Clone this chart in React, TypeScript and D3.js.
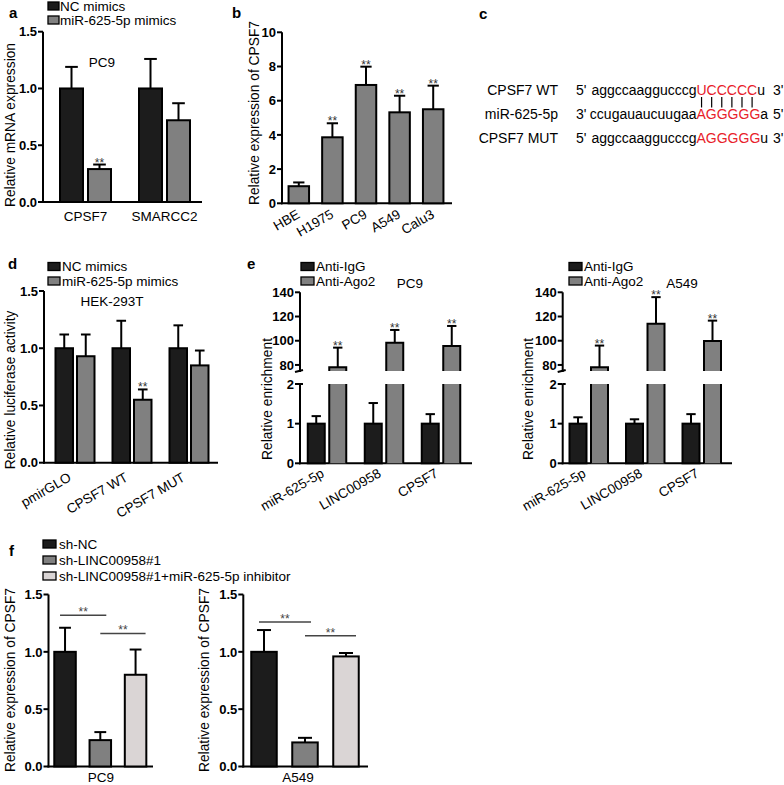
import React from "react";
import * as d3 from "d3";

// ---------- DATA ----------
const aCategories = ["CPSF7", "SMARCC2"];
const aLegend = ["NC mimics", "miR-625-5p mimics"];
const aNC = [1.0, 1.0];
const aNCErr = [0.19, 0.26];
const aMimic = [0.29, 0.72];
const aMimicErr = [0.04, 0.15];
const aMimicSig = ["**", ""];
const aTicks = [0, 0.5, 1.0, 1.5];

const bCategories = ["HBE", "H1975", "PC9", "A549", "Calu3"];
const bValues = [1.0, 3.86, 6.92, 5.32, 5.5];
const bErr = [0.22, 0.82, 1.07, 0.97, 1.38];
const bSig = ["", "**", "**", "**", "**"];
const bTicks = [0, 2, 4, 6, 8, 10];

const cRowLabels = ["CPSF7 WT", "miR-625-5p", "CPSF7 MUT"];
const cLeftEnd = ["5'", "3'", "5'"];
const cSeq = ["aggccaaggucccg", "ccugauaucuugaa", "aggccaaggucccg"];
const cSeed = ["UCCCCC", "AGGGGG", "AGGGGG"];
const cTail = ["u", "a", "u"];
const cRightEnd = ["3'", "5'", "3'"];

const dCategories = ["pmirGLO", "CPSF7 WT", "CPSF7 MUT"];
const dLegend = ["NC mimics", "miR-625-5p mimics"];
const dNC = [1.0, 1.0, 1.0];
const dNCErr = [0.12, 0.24, 0.2];
const dMimic = [0.93, 0.55, 0.85];
const dMimicErr = [0.19, 0.09, 0.13];
const dMimicSig = ["", "**", ""];
const dTicks = [0, 0.5, 1.0, 1.5];

const eCategories = ["miR-625-5p", "LINC00958", "CPSF7"];
const eLegend = ["Anti-IgG", "Anti-Ago2"];
const e1IgG = [1.0, 1.0, 1.0];
const e1IgGErr = [0.19, 0.52, 0.24];
const e1Ago2 = [78, 98.4, 95.6];
const e1Ago2Err = [16.3, 10.5, 16.6];
const e2IgG = [1.0, 1.0, 1.0];
const e2IgGErr = [0.16, 0.11, 0.24];
const e2Ago2 = [78, 114, 99.8];
const e2Ago2Err = [18, 22, 16.8];
const eLowerTicks = [0, 1, 2];
const eUpperTicks = [80, 100, 120, 140];

const fGroups = ["sh-NC", "sh-LINC00958#1", "sh-LINC00958#1+miR-625-5p inhibitor"];
const fPC9 = [1.0, 0.23, 0.8];
const fPC9Err = [0.21, 0.07, 0.22];
const fA549 = [1.0, 0.21, 0.96];
const fA549Err = [0.19, 0.04, 0.03];
const fPC9SigLevels = [1.32, 1.16];
const fA549SigLevels = [1.26, 1.14];
const fTicks = [0, 0.5, 1.0, 1.5];

// ---------- STYLE ----------
const FF = "'Liberation Sans', Arial, Helvetica, sans-serif";
const BLACK = "#1c1c1c";
const GREY = "#808080";
const LIGHT = "#dad5d5";
const FS = 13.5;
const TICKFS = 13;
const SW = 2;

function YAxis({ x, y, ticks, fmt, labelEnd }: any) {
  const [r0, r1] = y.range();
  return (
    <g>
      <line x1={x} x2={x} y1={r0 + 1} y2={r1} stroke="#000" strokeWidth={SW} />
      {ticks.map((t: number) => (
        <g key={t}>
          <line x1={x - 5} x2={x} y1={y(t)} y2={y(t)} stroke="#000" strokeWidth={SW} />
          <text x={labelEnd ?? x - 6} y={y(t)} dy="0.36em" textAnchor="end" fontWeight="bold" fontSize={TICKFS}>
            {fmt(t)}
          </text>
        </g>
      ))}
    </g>
  );
}

function XAxisLine({ x0, x1, y }: any) {
  return <line x1={x0 - 1} x2={x1} y1={y} y2={y} stroke="#000" strokeWidth={SW} />;
}

function YTitle({ x, y, text }: any) {
  return (
    <text transform={`translate(${x},${y}) rotate(-90)`} textAnchor="middle" fontSize={13.8}>
      {text}
    </text>
  );
}

function BarErr({ x, w, y0, yv, ye, fill, sig }: any) {
  const cx = x + w / 2;
  const cap = w * 0.55;
  return (
    <g>
      <line x1={cx} x2={cx} y1={yv} y2={ye} stroke="#000" strokeWidth={SW} />
      <line x1={cx - cap / 2} x2={cx + cap / 2} y1={ye} y2={ye} stroke="#000" strokeWidth={SW} />
      <rect x={x} y={yv} width={w} height={y0 - yv} fill={fill} stroke="#000" strokeWidth={SW} />
      {sig ? (
        <text x={cx} y={ye + 2} textAnchor="middle" fontSize={12} fill="#333">
          {sig}
        </text>
      ) : null}
    </g>
  );
}

function Legend({ x, rows, items, fills, textDx = 14, w = 12 }: any) {
  return (
    <g>
      {items.map((t: string, i: number) => (
        <g key={t}>
          <rect x={x} y={rows[i] - 4} width={w} height={8} fill={fills[i]} stroke="#000" strokeWidth={1.3} />
          <text x={x + textDx} y={rows[i] + 4.5} fontSize={FS}>
            {t}
          </text>
        </g>
      ))}
    </g>
  );
}

function RotLabel({ x, y, text }: any) {
  return (
    <text transform={`translate(${x},${y}) rotate(-30)`} textAnchor="end" fontSize={FS}>
      {text}
    </text>
  );
}

function PanelLetter({ x, y, t }: any) {
  return (
    <text x={x} y={y} fontWeight="bold" fontSize={15}>
      {t}
    </text>
  );
}

// ---------- PANEL A ----------
function PanelA() {
  const y = d3.scaleLinear().domain([0, 1.5]).range([202, 31.7]);
  const x = d3.scaleBand().domain(aCategories).range([46, 204]);
  const bw = 23, gap = 5;
  const y0 = y(0);
  return (
    <g>
      <PanelLetter x={9} y={18} t="a" />
      <Legend x={48} rows={[6, 20]} items={aLegend} fills={[BLACK, GREY]} textDx={12} w={11} />
      <YAxis x={43} y={y} ticks={aTicks} fmt={d3.format(".1f")} />
      <XAxisLine x0={43} x1={202} y={y0} />
      <YTitle x={14.5} y={125} text="Relative mRNA expression" />
      <text x={102} y={67} textAnchor="middle" fontSize={FS}>PC9</text>
      {aCategories.map((c, i) => {
        const cx = (x(c) as number) + x.bandwidth() / 2;
        return (
          <g key={c}>
            <BarErr x={cx - gap / 2 - bw} w={bw} y0={y0} yv={y(aNC[i])} ye={y(aNC[i] + aNCErr[i])} fill={BLACK} />
            <BarErr x={cx + gap / 2} w={bw} y0={y0} yv={y(aMimic[i])} ye={y(aMimic[i] + aMimicErr[i])} fill={GREY} sig={aMimicSig[i]} />
            <text x={cx} y={221} textAnchor="middle" fontSize={FS}>{c}</text>
          </g>
        );
      })}
    </g>
  );
}

// ---------- PANEL B ----------
function PanelB() {
  const y = d3.scaleLinear().domain([0, 10]).range([203.3, 32.3]);
  const x = d3.scaleBand().domain(bCategories).range([282, 450]).paddingInner(0.39).paddingOuter(0.195);
  const y0 = y(0);
  return (
    <g>
      <PanelLetter x={232} y={18} t="b" />
      <YAxis x={282} y={y} ticks={bTicks} fmt={d3.format("d")} />
      <XAxisLine x0={282} x1={452} y={y0} />
      <YTitle x={259} y={113} text="Relative expression of CPSF7" />
      {bCategories.map((c, i) => {
        const bx = x(c) as number;
        const cx = bx + x.bandwidth() / 2;
        return (
          <g key={c}>
            <BarErr x={bx} w={x.bandwidth()} y0={y0} yv={y(bValues[i])} ye={y(bValues[i] + bErr[i])} fill={GREY} sig={bSig[i]} />
            <RotLabel x={cx + 2} y={217} text={c} />
          </g>
        );
      })}
    </g>
  );
}

// ---------- PANEL C ----------
function PanelC() {
  const fs = 14;
  const seedX = 696.5;
  const rows = [95, 118.5, 142.5];
  const cw = 0.722 * fs;
  return (
    <g fontSize={fs}>
      <PanelLetter x={479} y={19} t="c" />
      {cRowLabels.map((l, i) => (
        <g key={l}>
          <text x={558} y={rows[i]} textAnchor="end">{l}</text>
          <text x={576} y={rows[i]}>{cLeftEnd[i]}</text>
          <text x={seedX} y={rows[i]} textAnchor="end">{cSeq[i]}</text>
          <text x={seedX} y={rows[i]}>
            <tspan fill="#e8202a">{cSeed[i]}</tspan>
            <tspan fill="#000">{cTail[i]}</tspan>
          </text>
          <text x={773} y={rows[i]}>{cRightEnd[i]}</text>
        </g>
      ))}
      {cSeed[0].split("").map((ch, i) => (
        <line key={i} x1={seedX + (i + 0.5) * cw} x2={seedX + (i + 0.5) * cw} y1={97} y2={107.5} stroke="#000" strokeWidth={1.2} />
      ))}
    </g>
  );
}

// ---------- PANEL D ----------
function PanelD() {
  const y = d3.scaleLinear().domain([0, 1.5]).range([462.7, 291]);
  const x = d3.scaleBand().domain(dCategories).range([46.5, 217.5]);
  const bw = 17.5, gap = 4;
  const y0 = y(0);
  return (
    <g>
      <PanelLetter x={8} y={269} t="d" />
      <Legend x={48} rows={[266.5, 281]} items={dLegend} fills={[BLACK, GREY]} />
      <YAxis x={44} y={y} ticks={dTicks} fmt={d3.format(".1f")} />
      <XAxisLine x0={44} x1={218} y={y0} />
      <YTitle x={15} y={390} text="Relative luciferase activity" />
      <text x={112} y={306} textAnchor="middle" fontSize={FS}>HEK-293T</text>
      {dCategories.map((c, i) => {
        const cx = (x(c) as number) + x.bandwidth() / 2;
        return (
          <g key={c}>
            <BarErr x={cx - gap / 2 - bw} w={bw} y0={y0} yv={y(dNC[i])} ye={y(dNC[i] + dNCErr[i])} fill={BLACK} />
            <BarErr x={cx + gap / 2} w={bw} y0={y0} yv={y(dMimic[i])} ye={y(dMimic[i] + dMimicErr[i])} fill={GREY} sig={dMimicSig[i]} />
            <RotLabel x={cx - 3} y={480} text={c} />
          </g>
        );
      })}
    </g>
  );
}

// ---------- PANEL E ----------
function PanelE({ ax, xEnd, bandRange, igg, iggErr, ago, agoErr, cell, cellX, legendX, titleX, letter }: any) {
  const yl = d3.scaleLinear().domain([0, 2]).range([463.3, 384]);
  const yu = d3.scaleLinear().domain([75, 140]).range([371, 292.3]);
  const x = d3.scaleBand().domain(eCategories).range(bandRange);
  const bw = 17, gap = 4.5;
  const y0 = yl(0);
  const breakLow = yl(2);
  const breakHigh = yu(75);
  return (
    <g>
      {letter ? <PanelLetter x={247} y={269} t="e" /> : null}
      <Legend x={legendX} rows={[266.5, 281]} items={eLegend} fills={[BLACK, GREY]} textDx={15} w={13} />
      <text x={cellX} y={288} textAnchor="middle" fontSize={FS}>{cell}</text>
      <YAxis x={ax} y={yl} ticks={eLowerTicks} fmt={d3.format("d")} />
      <YAxis x={ax} y={yu} ticks={eUpperTicks} fmt={d3.format("d")} />
      <line x1={ax - 5} x2={ax + 3} y1={breakHigh + 1} y2={breakHigh - 1} stroke="#000" strokeWidth={SW} />
      <line x1={ax} x2={ax + 3} y1={breakLow} y2={breakLow} stroke="#000" strokeWidth={SW} />
      <XAxisLine x0={ax} x1={xEnd} y={y0} />
      <YTitle x={titleX} y={399} text="Relative enrichment" />
      {eCategories.map((c, i) => {
        const cx = (x(c) as number) + x.bandwidth() / 2;
        const ax2 = cx + gap / 2;
        const acx = ax2 + bw / 2;
        const yv = yu(ago[i]);
        const ye = yu(ago[i] + agoErr[i]);
        const cap = bw * 0.55;
        return (
          <g key={c}>
            <BarErr x={cx - gap / 2 - bw} w={bw} y0={y0} yv={yl(igg[i])} ye={yl(igg[i] + iggErr[i])} fill={BLACK} />
            <line x1={acx} x2={acx} y1={yv} y2={ye} stroke="#000" strokeWidth={SW} />
            <line x1={acx - cap / 2} x2={acx + cap / 2} y1={ye} y2={ye} stroke="#000" strokeWidth={SW} />
            <rect x={ax2} y={breakLow} width={bw} height={y0 - breakLow} fill={GREY} />
            <rect x={ax2} y={yv} width={bw} height={breakHigh - yv} fill={GREY} />
            <path
              d={`M${ax2},${y0}V${breakLow}M${ax2 + bw},${y0}V${breakLow}M${ax2},${breakHigh}V${yv}H${ax2 + bw}V${breakHigh}`}
              fill="none"
              stroke="#000"
              strokeWidth={SW}
            />
            <text x={acx} y={ye + 2} textAnchor="middle" fontSize={12} fill="#333">**</text>
            <RotLabel x={cx - 2} y={476} text={c} />
          </g>
        );
      })}
    </g>
  );
}

// ---------- PANEL F ----------
function PanelF({ ax, xEnd, bandRange, pad, vals, errs, sigLevels, cell, cellX, titleX, labelEnd }: any) {
  const y = d3.scaleLinear().domain([0, 1.5]).range([766.5, 594.5]);
  const x = d3.scaleBand().domain(fGroups).range(bandRange).paddingInner(pad).paddingOuter(pad / 2);
  const y0 = y(0);
  const fills = [BLACK, GREY, LIGHT];
  const centers = fGroups.map((g) => (x(g) as number) + x.bandwidth() / 2);
  const sigSpans = [
    [centers[0] - 5, centers[1] + 6],
    [centers[1], centers[2] + 10],
  ];
  return (
    <g>
      <YAxis x={ax} y={y} ticks={fTicks} fmt={d3.format(".1f")} labelEnd={labelEnd} />
      <XAxisLine x0={ax} x1={xEnd} y={y0} />
      <YTitle x={titleX} y={680} text="Relative expression of CPSF7" />
      {fGroups.map((g, i) => (
        <BarErr key={g} x={x(g)} w={x.bandwidth()} y0={y0} yv={y(vals[i])} ye={y(vals[i] + errs[i])} fill={fills[i]} />
      ))}
      {sigLevels.map((lv: number, k: number) => (
        <g key={k}>
          <line x1={sigSpans[k][0]} x2={sigSpans[k][1]} y1={y(lv)} y2={y(lv)} stroke="#444" strokeWidth={1.5} />
          <text x={(sigSpans[k][0] + sigSpans[k][1]) / 2} y={y(lv) + 1} textAnchor="middle" fontSize={12} fill="#444">**</text>
        </g>
      ))}
      <text x={cellX} y={782} textAnchor="middle" fontSize={FS}>{cell}</text>
    </g>
  );
}

export default function App() {
  return (
    <svg
      width={784}
      height={785}
      style={{ position: "absolute", left: 0, top: 0, background: "#fff" }}
      fontFamily={FF}
    >
      <rect width={784} height={785} fill="#fff" />
      <PanelA />
      <PanelB />
      <PanelC />
      <PanelD />
      <PanelE ax={300} xEnd={472} bandRange={[298.5, 469.5]} igg={e1IgG} iggErr={e1IgGErr} ago={e1Ago2} agoErr={e1Ago2Err} cell="PC9" cellX={410} legendX={301} titleX={271.5} letter />
      <PanelE ax={562.7} xEnd={732} bandRange={[560.5, 730]} igg={e2IgG} iggErr={e2IgGErr} ago={e2Ago2} agoErr={e2Ago2Err} cell="A549" cellX={682} legendX={569} titleX={533} />
      <PanelLetter x={9} y={556} t="f" />
      <Legend x={43} rows={[544, 560, 576]} items={fGroups} fills={[BLACK, GREY, LIGHT]} textDx={16} w={13} />
      <PanelF ax={48.5} xEnd={153} bandRange={[47.4, 153.2]} pad={0.39} vals={fPC9} errs={fPC9Err} sigLevels={fPC9SigLevels} cell="PC9" cellX={101} titleX={14.5} />
      <PanelF ax={243.3} xEnd={368} bandRange={[243.5, 366.5]} pad={0.378} vals={fA549} errs={fA549Err} sigLevels={fA549SigLevels} cell="A549" cellX={298} titleX={208.5} />
    </svg>
  );
}
